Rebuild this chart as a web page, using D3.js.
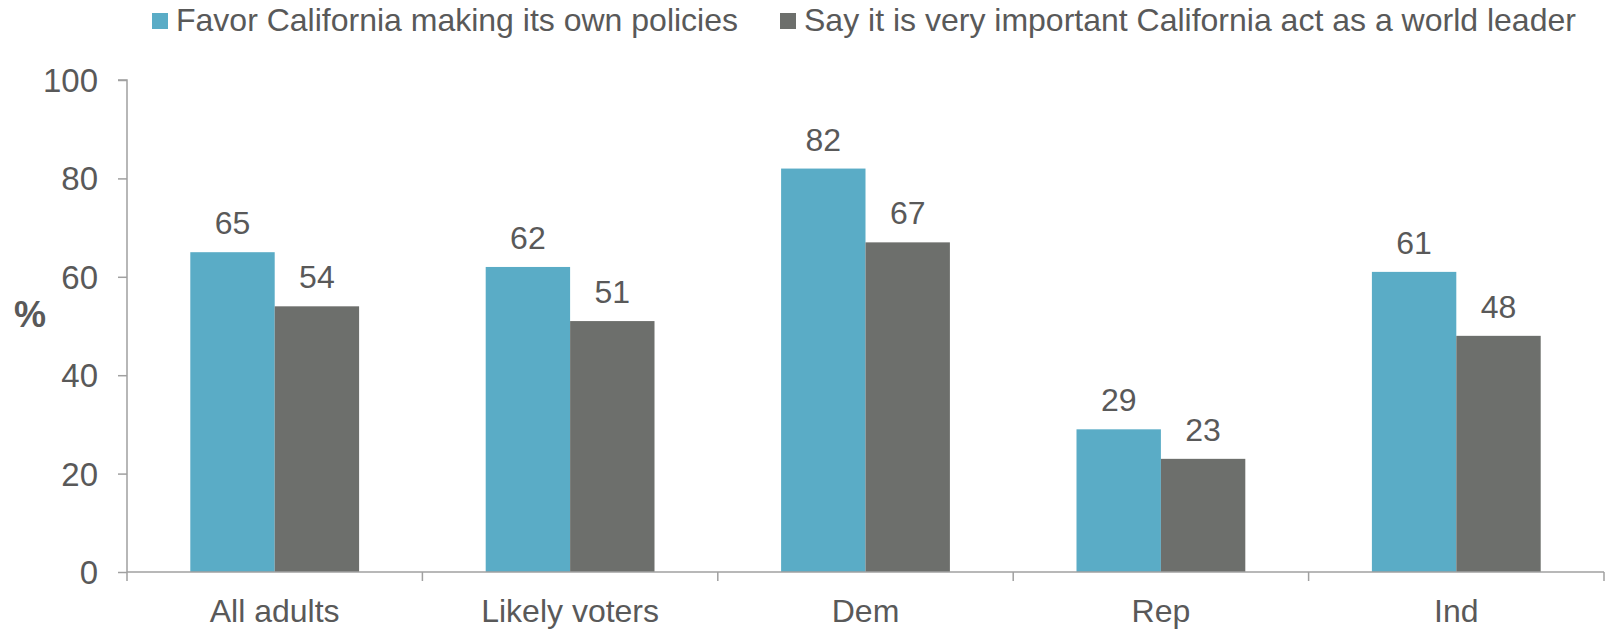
<!DOCTYPE html>
<html>
<head>
<meta charset="utf-8">
<script src="https://cdn.jsdelivr.net/npm/d3@7"></script>
<style>
  html, body { margin: 0; padding: 0; background: #fff; }
  svg { display: block; font-family: "Liberation Sans", Arial, sans-serif; }
</style>
</head>
<body>
<svg id="chart" width="1607" height="629"></svg>
<script>
const categories = ["All adults", "Likely voters", "Dem", "Rep", "Ind"];
const seriesNames = ["Favor California making its own policies", "Say it is very important California act as a world leader"];
const favorOwnPolicies = [65, 62, 82, 29, 61];
const worldLeader = [54, 51, 67, 23, 48];
const yTicks = [0, 20, 40, 60, 80, 100];
const colors = ["#5aacc6", "#6d6f6c"];

(function () {
const textColor = "#595959";
const axisColor = "#a0a0a0";
const svg = d3.select("#chart");

const mLeft = 127, mRight = 1604, mTop = 80, mBottom = 572;

const x0 = d3.scaleBand().domain(categories).range([mLeft, mRight]).padding(0);
const x1 = d3.scaleBand().domain([0, 1]).range([0, x0.bandwidth()]).paddingInner(0).paddingOuter(0.75);
const y = d3.scaleLinear().domain([0, 100]).range([mBottom, mTop]);

const series = [favorOwnPolicies, worldLeader];

// bars
series.forEach((vals, si) => {
  svg.append("g").selectAll("rect").data(vals).join("rect")
    .attr("x", (d, i) => x0(categories[i]) + x1(si))
    .attr("y", d => y(d))
    .attr("width", x1.bandwidth())
    .attr("height", d => y(0) - y(d))
    .attr("fill", colors[si]);
  svg.append("g").selectAll("text").data(vals).join("text")
    .attr("x", (d, i) => x0(categories[i]) + x1(si) + x1.bandwidth() / 2)
    .attr("y", d => y(d) - 18)
    .attr("text-anchor", "middle")
    .attr("font-size", 32)
    .attr("fill", textColor)
    .text(d => d);
});

// y axis
const yAxis = svg.append("g").attr("transform", `translate(${mLeft},0)`)
  .call(d3.axisLeft(y).tickValues(yTicks).tickSize(9).tickPadding(20));
yAxis.select(".domain").attr("stroke", axisColor).attr("stroke-width", 1.5)
  .attr("d", `M-9,${mTop}H0V${mBottom + 9}`);
yAxis.selectAll(".tick line").attr("stroke", axisColor).attr("stroke-width", 1.5);
yAxis.selectAll(".tick text").attr("font-size", 33).attr("fill", textColor)
  .attr("font-family", "Liberation Sans, Arial, sans-serif").attr("dy", "0.35em");

// x axis
const xAxis = svg.append("g").attr("transform", `translate(0,${mBottom})`)
  .call(d3.axisBottom(x0).tickSize(0).tickPadding(27));
xAxis.select(".domain").attr("stroke", axisColor).attr("stroke-width", 1.5)
  .attr("d", `M${mLeft},0H${mRight}`);
xAxis.selectAll(".tick text").attr("font-size", 32).attr("fill", textColor)
  .attr("font-family", "Liberation Sans, Arial, sans-serif").attr("dy", "0.71em");
// boundary ticks
const bounds = categories.map(c => x0(c)).concat([x0(categories[categories.length - 1]) + x0.bandwidth()]);
xAxis.append("g").selectAll("line").data(bounds.slice(1)).join("line")
  .attr("x1", d => d).attr("x2", d => d).attr("y1", 0).attr("y2", 9)
  .attr("stroke", axisColor).attr("stroke-width", 1.5);

// % label
svg.append("text").attr("x", 30).attr("y", 327).attr("text-anchor", "middle")
  .attr("font-size", 36).attr("font-weight", "bold").attr("fill", textColor).text("%");

// legend
const legendX = [152, 780];
seriesNames.forEach((name, i) => {
  svg.append("rect").attr("x", legendX[i]).attr("y", 13).attr("width", 16).attr("height", 16).attr("fill", colors[i]);
  svg.append("text").attr("x", legendX[i] + 24).attr("y", 31).attr("font-size", 32)
    .attr("fill", textColor).text(name);
});
})();
</script>
</body>
</html>
